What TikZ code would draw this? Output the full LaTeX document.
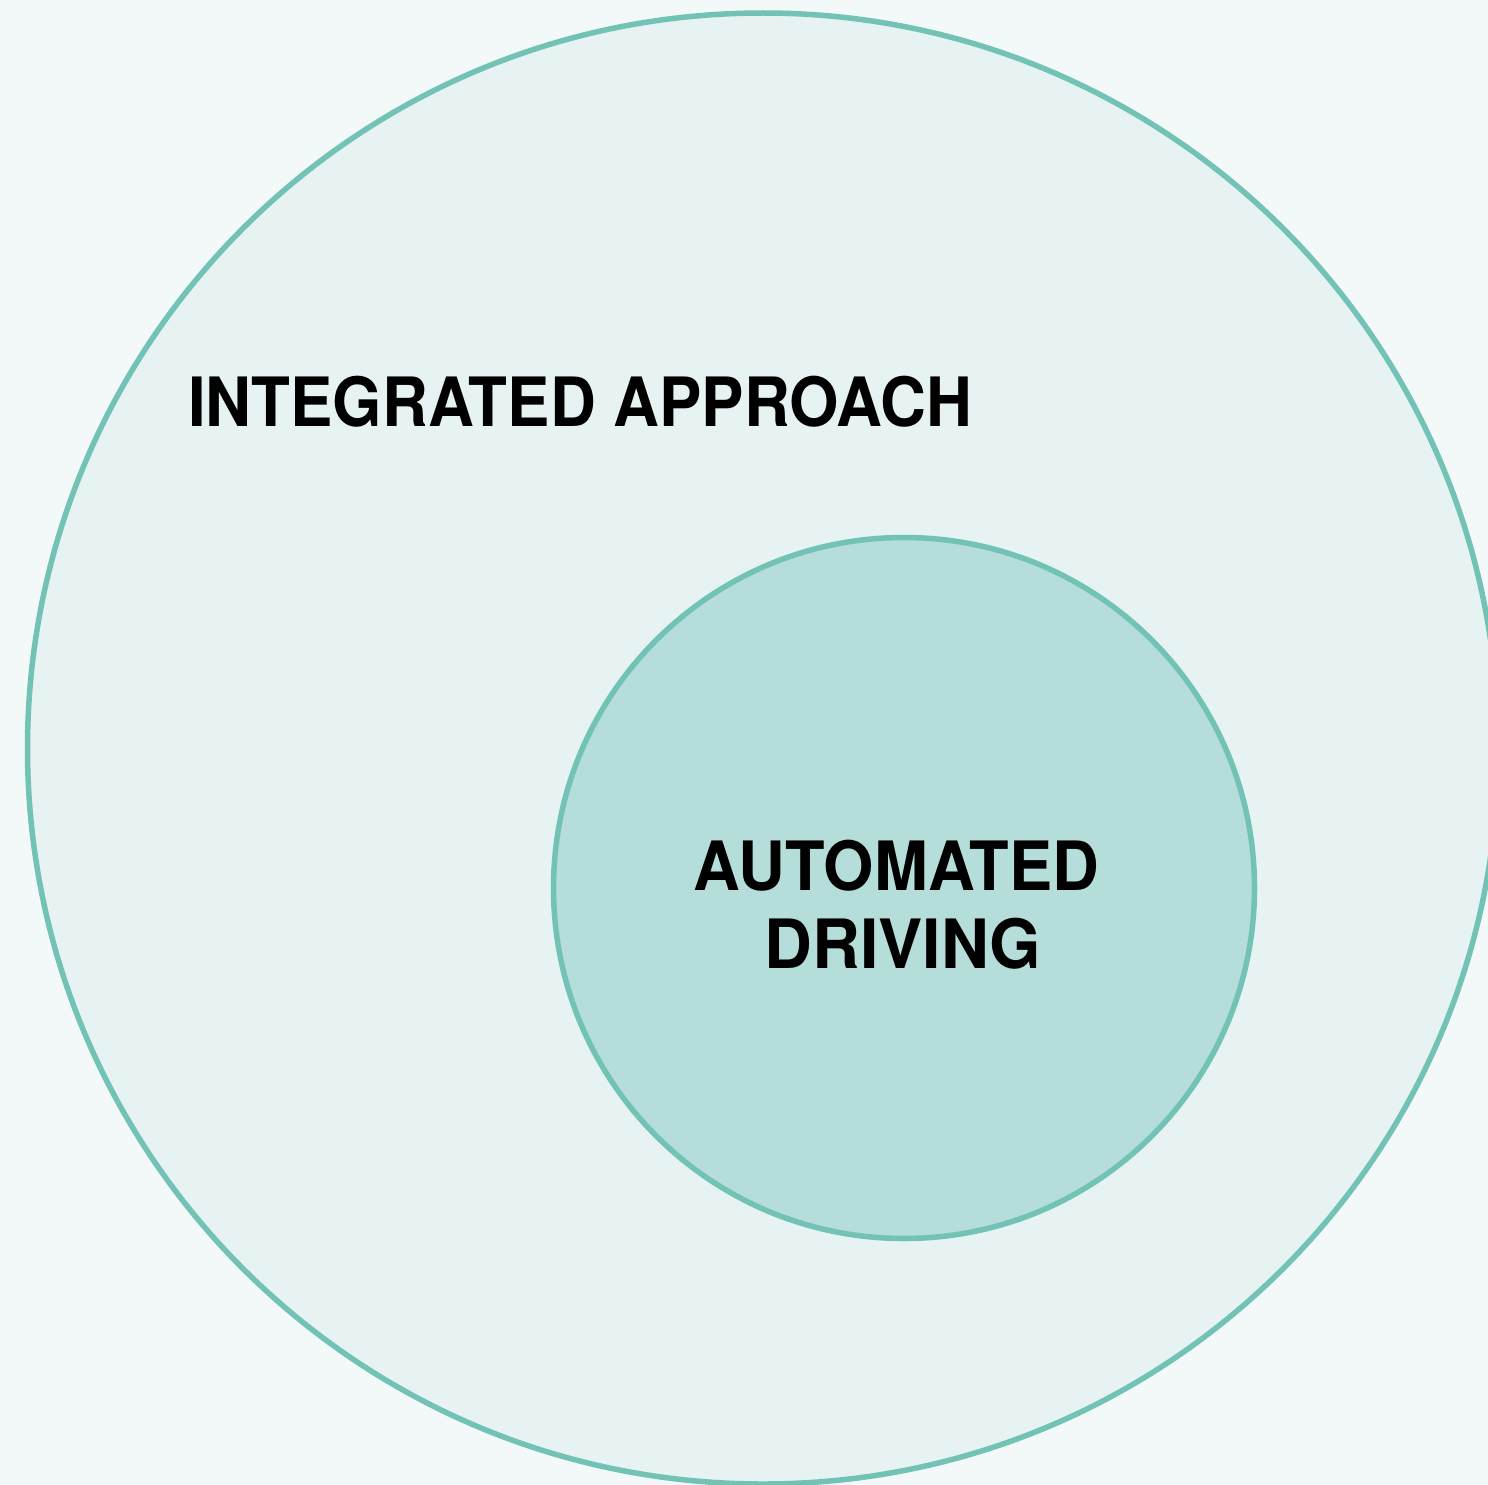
\documentclass[tikz,border=0pt]{standalone}
\usepackage{fontspec}
\usepackage{graphicx}
\setmainfont{TeX Gyre Heros}
\definecolor{bgcol}{HTML}{F3F9F9}
\definecolor{outerfill}{HTML}{E6F3F2}
\definecolor{innerfill}{HTML}{B5DDD9}
\definecolor{ringcol}{HTML}{72C2B5}
\tikzset{
  ring/.style={circle, draw=ringcol, line width=5.5pt, inner sep=0pt},
  label/.style={inner sep=0pt, font=\fontsize{68}{78}\selectfont\bfseries, text=black}
}
\begin{document}
\begin{tikzpicture}[x=1pt,y=-1pt]
\useasboundingbox (0,0) rectangle (1488,1485);
\clip (0,0) rectangle (1488,1485);
\fill[bgcol] (0,0) rectangle (1488,1485);
\node[ring, fill=outerfill, minimum size=1471pt] (outer) at (763,748.5) {};
\node[ring, fill=innerfill, minimum size=701pt] (inner) at (904,888) {};
\node[label, anchor=base west] (integ) at (188,426) {\scalebox{0.934}[1]{INTEGRATED APPROACH}};
\node[label, anchor=base] (auto1) at (896.5,890) {\scalebox{0.952}[1]{AUTOMATED}};
\node[label, anchor=base] (auto2) at (903,968) {\scalebox{0.974}[1]{DRIVING}};
\end{tikzpicture}
\end{document}
